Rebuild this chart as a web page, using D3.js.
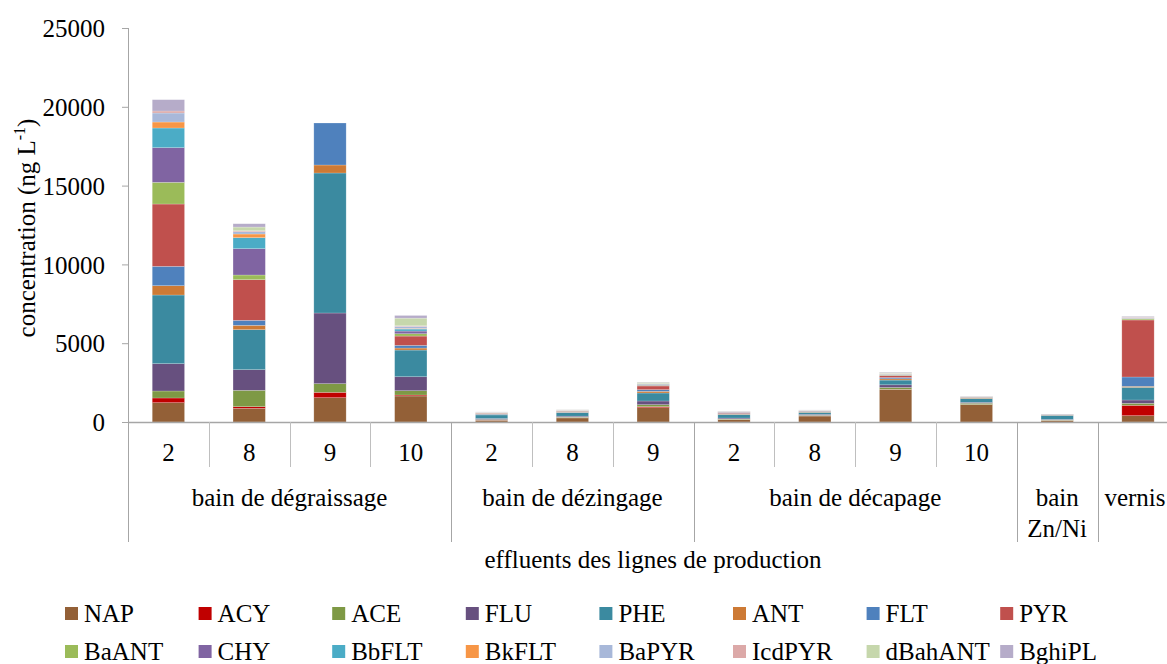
<!DOCTYPE html>
<html lang="fr">
<head>
<meta charset="UTF-8">
<title>HAP dans les effluents</title>
<script src="https://d3js.org/d3.v7.min.js"></script>
<style>
  body { margin: 0; background: #fff; overflow: hidden; }
  svg { display: block; font-family: "Liberation Serif", "Times New Roman", serif; }
  svg text { font-family: "Liberation Serif", "Times New Roman", serif; fill: #000; }
  .tick text { font-size: 25px; }
</style>
</head>
<body>
<svg id="chart" width="1167" height="664"></svg>
<script>
// sous-catégories (numéro de ligne) et groupes
const lines = ["2", "8", "9", "10", "2", "8", "9", "2", "8", "9", "10", "", ""];
const groups = [
  { label: ["bain de dégraissage"], start: 0, end: 4 },
  { label: ["bain de dézingage"], start: 4, end: 7 },
  { label: ["bain de décapage"], start: 7, end: 11 },
  { label: ["bain", "Zn/Ni"], start: 11, end: 12 },
  { label: ["vernis"], start: 12, end: 13 }
];
const yTicks = [0, 5000, 10000, 15000, 20000, 25000];

// concentrations (ng/L)
const NAP     = [1227, 867, 1544, 1650, 110, 260, 909, 150, 380, 2050, 1100, 100, 402];
const ACY     = [296, 106, 338, 60, 10, 10, 63, 10, 5, 20, 10, 5, 656];
const ACE     = [444, 1036, 550, 275, 40, 40, 127, 30, 40, 120, 80, 20, 127];
const FLU     = [1734, 1311, 4484, 888, 60, 60, 233, 60, 60, 170, 60, 40, 211];
const PHE     = [4356, 2538, 8883, 1692, 230, 220, 508, 220, 130, 300, 240, 250, 804];
const ANT     = [592, 275, 508, 127, 30, 30, 106, 30, 20, 80, 30, 20, 63];
const FLT     = [1227, 317, 2665, 169, 40, 40, 106, 40, 40, 80, 30, 30, 592];
const PYR     = [3955, 2580, 0, 592, 40, 30, 233, 60, 20, 120, 20, 20, 3617];
const BaANT   = [1375, 296, 0, 148, 10, 10, 40, 10, 10, 30, 10, 5, 63];
const CHY     = [2200, 1671, 0, 169, 10, 20, 60, 20, 10, 40, 20, 5, 30];
const BbFLT   = [1248, 698, 0, 127, 10, 10, 20, 10, 10, 20, 10, 5, 20];
const BkFLT   = [380, 233, 0, 40, 5, 5, 10, 5, 5, 10, 5, 0, 10];
const BaPYR   = [571, 148, 0, 127, 10, 10, 10, 10, 10, 20, 10, 0, 40];
const IcdPYR  = [127, 60, 0, 40, 10, 10, 10, 10, 5, 20, 5, 0, 30];
const dBahANT = [0, 233, 0, 486, 10, 20, 80, 10, 10, 60, 10, 0, 20];
const BghiPL  = [719, 211, 0, 169, 15, 10, 20, 15, 10, 30, 10, 0, 30];

const seriesNames = ["NAP", "ACY", "ACE", "FLU", "PHE", "ANT", "FLT", "PYR",
                     "BaANT", "CHY", "BbFLT", "BkFLT", "BaPYR", "IcdPYR", "dBahANT", "BghiPL"];
const seriesValues = [NAP, ACY, ACE, FLU, PHE, ANT, FLT, PYR,
                      BaANT, CHY, BbFLT, BkFLT, BaPYR, IcdPYR, dBahANT, BghiPL];
const colors = ["#936037", "#c00000", "#7e9945", "#67507f", "#3b8aa0", "#cd7a35", "#4f81bd", "#c0504d",
                "#9bbb59", "#8064a2", "#4bacc6", "#f79646", "#a8b8d9", "#dca9a8", "#c6d7ac", "#b6acc9"];

// tableau pour d3.stack
const table = lines.map((l, i) => {
  const row = { idx: i };
  seriesNames.forEach((s, k) => row[s] = seriesValues[k][i]);
  return row;
});

const svg = d3.select("#chart");
const mLeft = 128, mTop = 28, mBottom = 422;
const step = 80.8;
const fs = 25;

const x = d3.scaleBand()
  .domain(d3.range(lines.length))
  .range([mLeft, mLeft + step * lines.length])
  .padding(0);

const y = d3.scaleLinear().domain([0, 25000]).range([mBottom, mTop]);

const color = d3.scaleOrdinal().domain(seriesNames).range(colors);

const stacked = d3.stack().keys(seriesNames)(table);

const barW = x.bandwidth() * 0.4;

svg.append("g")
  .selectAll("g")
  .data(stacked)
  .join("g")
  .attr("fill", d => color(d.key))
  .selectAll("rect")
  .data(d => d)
  .join("rect")
  .attr("x", d => x(d.data.idx) + (x.bandwidth() - barW) / 2)
  .attr("width", barW)
  .attr("y", d => y(d[1]))
  .attr("height", d => y(d[0]) - y(d[1]))
  .attr("stroke", "rgba(255,255,255,0.35)")
  .attr("stroke-width", 0.6);

// axe y
const yAxis = svg.append("g")
  .attr("transform", `translate(${mLeft},0)`)
  .call(d3.axisLeft(y).tickValues(yTicks).tickSize(6).tickPadding(17).tickFormat(d3.format("d")));
yAxis.attr("font-family", null).attr("font-size", null);
yAxis.select(".domain").remove();
yAxis.selectAll(".tick line").attr("stroke", "#a6a6a6");
yAxis.selectAll(".tick text").attr("dy", "0.35em");

svg.append("line")
  .attr("x1", mLeft + 0.5).attr("x2", mLeft + 0.5)
  .attr("y1", mTop).attr("y2", 542)
  .attr("stroke", "#a6a6a6");

// axe x
svg.append("line")
  .attr("x1", mLeft).attr("x2", 1167)
  .attr("y1", mBottom + 0.5).attr("y2", mBottom + 0.5)
  .attr("stroke", "#a6a6a6").attr("stroke-width", 1.5);

const axisG = svg.append("g");

// séparateurs
lines.forEach((l, i) => {
  if (i === 0) return;
  const isGroupStart = groups.some(g => g.start === i);
  axisG.append("line")
    .attr("x1", Math.round(x(i)) + 0.5).attr("x2", Math.round(x(i)) + 0.5)
    .attr("y1", mBottom).attr("y2", isGroupStart ? 542 : 467)
    .attr("stroke", isGroupStart ? "#a6a6a6" : "#bfbfbf");
});

axisG.selectAll("text.line")
  .data(lines)
  .join("text")
  .attr("class", "line")
  .attr("x", (d, i) => x(i) + x.bandwidth() / 2)
  .attr("y", 461)
  .attr("text-anchor", "middle")
  .attr("font-size", fs)
  .text(d => d);

groups.forEach(g => {
  // le dernier groupe déborde à droite : on le garde dans la fenêtre
  const cx = Math.min((x(g.start) + x(g.end - 1) + x.bandwidth()) / 2, 1135);
  g.label.forEach((t, k) => {
    axisG.append("text")
      .attr("x", cx)
      .attr("y", 506 + k * 31)
      .attr("text-anchor", "middle")
      .attr("font-size", fs)
      .text(t);
  });
});

svg.append("text")
  .attr("x", 653)
  .attr("y", 568)
  .attr("text-anchor", "middle")
  .attr("font-size", fs)
  .text("effluents des lignes de production");

// titre axe y
const yl = svg.append("text")
  .attr("transform", "translate(35,228) rotate(-90)")
  .attr("text-anchor", "middle")
  .attr("font-size", fs);
yl.append("tspan").text("concentration (ng L");
yl.append("tspan").attr("font-size", 16).attr("dy", -10).text("-1");
yl.append("tspan").attr("dy", 10).text(")");

// légende
const legend = svg.append("g");
seriesNames.forEach((s, k) => {
  const col = k % 8, row = Math.floor(k / 8);
  const lx = 65 + col * 133.6, ly = 607 + row * 38;
  legend.append("rect")
    .attr("x", lx).attr("y", ly)
    .attr("width", 13).attr("height", 13)
    .attr("fill", color(s));
  legend.append("text")
    .attr("x", lx + 19).attr("y", ly + 15)
    .attr("font-size", fs)
    .text(s);
});
</script>
</body>
</html>
